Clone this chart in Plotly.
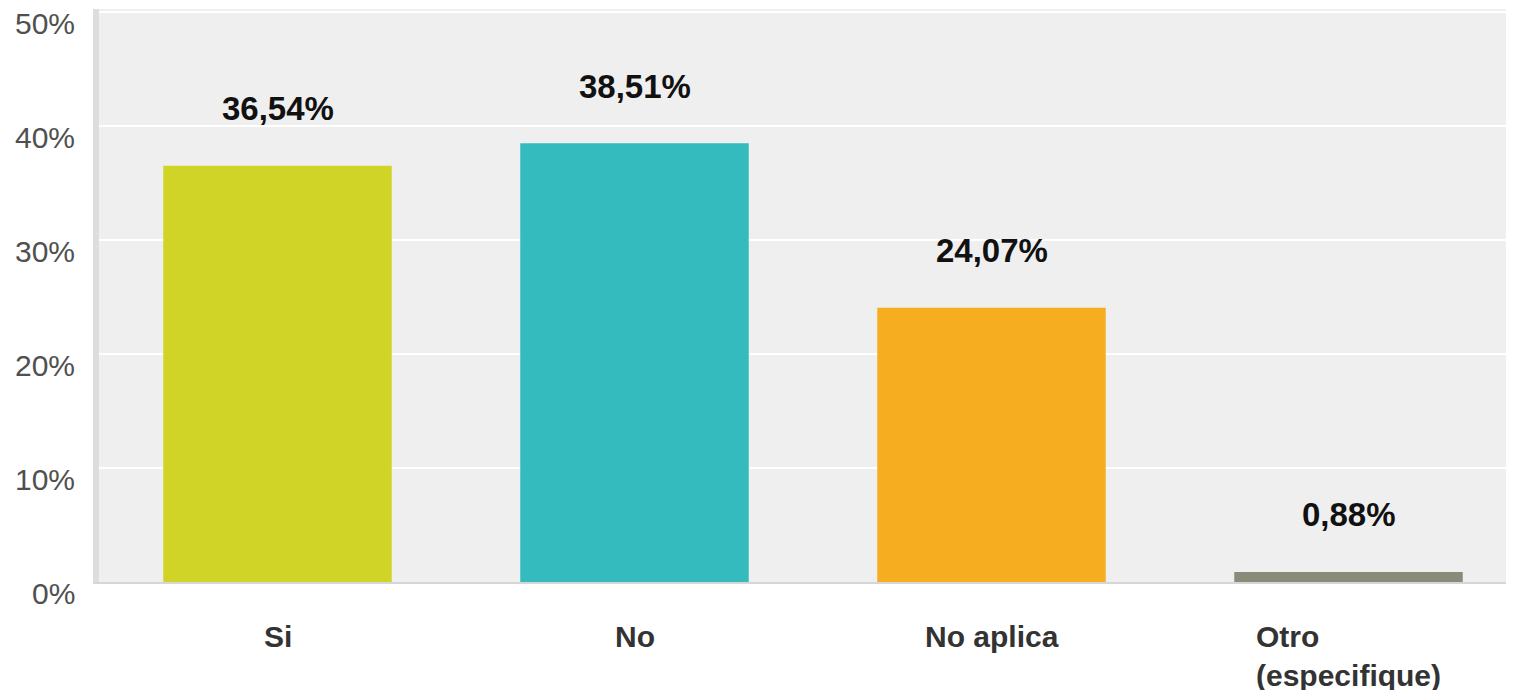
import plotly.graph_objects as go

# Datos del gráfico
categorias = ["Si", "No", "No aplica", "Otro (especifique)"]
etiquetas_eje = ["Si", "No", "No aplica", "Otro<br>(especifique)"]
porcentajes = [36.54, 38.51, 24.07, 0.88]
colores = ["#cfd426", "#33bbbe", "#f6ae20", "#8a8c7a"]
ticks_y = [0, 10, 20, 30, 40, 50]
ticks_y_texto = ["0%", "10%", "20%", "30%", "40%", "50%"]

fig = go.Figure()

fig.add_trace(go.Bar(
    x=categorias,
    y=porcentajes,
    marker=dict(color=colores, line=dict(width=0)),
    width=0.64,
    showlegend=False,
    hoverinfo="skip",
))

# Etiquetas de valor sobre cada barra
for cat, val in zip(categorias, porcentajes):
    fig.add_annotation(
        x=cat, y=val, xref="x", yref="y",
        text=f"{val:.2f}%".replace(".", ","),
        showarrow=False, yanchor="middle", yshift=57,
        font=dict(family="Liberation Sans", size=33, color="#111111", weight="bold"),
    )

# Etiquetas de categoría debajo del eje
for cat, etq in zip(categorias, etiquetas_eje):
    fig.add_annotation(
        x=cat, y=0, xref="x", yref="paper",
        text=etq, showarrow=False, align="left",
        yanchor="top", xanchor="center", yshift=-36,
        font=dict(family="Liberation Sans", size=30, color="#333333", weight="bold"),
    )

# Etiquetas del eje Y (desplazadas por debajo de cada línea de rejilla)
for val, txt in zip(ticks_y, ticks_y_texto):
    fig.add_annotation(
        x=0, y=val, xref="paper", yref="y",
        text=txt, showarrow=False,
        xanchor="right", yanchor="middle", xshift=-22, yshift=-11,
        font=dict(family="Liberation Sans", size=30, color="#505050"),
    )

# la página añade 8px de margen al cuerpo: se descuentan del tamaño
fig.update_layout(
    width=1506, height=682,
    margin=dict(l=91, r=0, t=1, b=108),
    paper_bgcolor="white",
    plot_bgcolor="#efefef",
    bargap=0.36,
    font=dict(family="Liberation Sans"),
)

fig.update_xaxes(
    range=[-0.5, 3.4636],
    showticklabels=False,
    showgrid=False,
    zeroline=False,
    showline=True, linecolor="#d6d6d6", linewidth=2,
    ticks="",
)

fig.update_yaxes(
    range=[0, 50.3],
    tickvals=ticks_y,
    showticklabels=False,
    showgrid=True, gridcolor="white", gridwidth=2,
    zeroline=False,
    showline=True, linecolor="#dddddd", linewidth=6,
    ticks="",
)

fig.write_html("out.html")
